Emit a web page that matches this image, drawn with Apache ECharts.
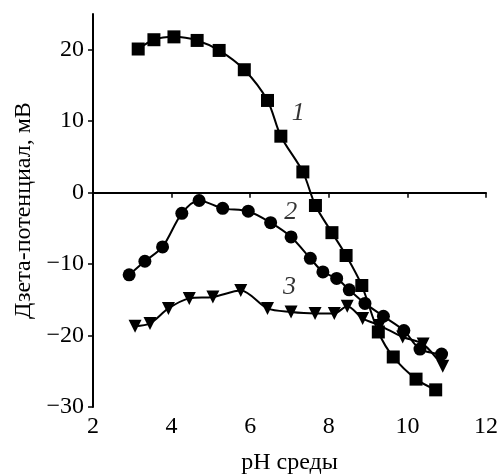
<!DOCTYPE html>
<html>
<head>
<meta charset="utf-8">
<script src="https://cdn.jsdelivr.net/npm/echarts@6/dist/echarts.min.js"></script>
<style>
  html, body { margin: 0; padding: 0; background: #fff; }
  #chart { width: 501px; height: 475px; }
</style>
</head>
<body>
<div id="chart"></div>
<script>
// кривая 1 — квадраты
const curve1 = [
  [3.15, 20.1], [3.55, 21.4], [4.06, 21.8], [4.65, 21.3], [5.21, 19.9],
  [5.85, 17.2], [6.44, 12.9], [6.78, 7.9], [7.34, 2.9], [7.66, -1.8],
  [8.08, -5.6], [8.44, -8.8], [8.84, -13.0], [9.26, -19.5], [9.64, -23.0],
  [10.22, -26.1], [10.72, -27.6]
]
// кривая 2 — круги
const curve2 = [
  [2.92, -11.5], [3.32, -9.6], [3.77, -7.6], [4.26, -2.9], [4.70, -1.1],
  [5.30, -2.2], [5.95, -2.6], [6.52, -4.2], [7.04, -6.2], [7.53, -9.2],
  [7.85, -11.1], [8.20, -12.0], [8.52, -13.6], [8.92, -15.5], [9.39, -17.3],
  [9.91, -19.3], [10.32, -21.9], [10.87, -22.6]
]
// кривая 3 — треугольники
const curve3 = [
  [3.07, -18.7], [3.45, -18.3], [3.92, -16.2], [4.45, -14.8], [5.05, -14.6],
  [5.76, -13.7], [6.44, -16.2], [7.04, -16.7], [7.65, -16.9], [8.14, -16.9],
  [8.47, -15.9], [8.86, -17.6], [9.30, -18.6], [9.88, -20.2], [10.40, -21.2],
  [10.90, -24.3]
]
// подписи кривых
const curveLabels = [
  [7.22, 11.1, '1'],
  [7.03, -2.8, '2'],
  [7.0, -13.3, '3']
]
const xTicks = [2, 4, 6, 8, 10, 12]
const yTicks = [-30, -20, -10, 0, 10, 20]

const FONT = "'Liberation Serif', 'Times New Roman', serif"

function curveSeries(data, symbol, size, rotate) {
  return {
    type: 'line',
    data: data,
    smooth: 0.3,
    symbol: symbol,
    symbolSize: size,
    symbolRotate: rotate || 0,
    lineStyle: { color: '#000', width: 2 },
    itemStyle: { color: '#000' },
    z: 3
  }
}

const chart = echarts.init(document.getElementById('chart'))
chart.setOption({
  animation: false,
  grid: { left: 93, right: 15, top: 14, bottom: 68, outerBoundsMode: 'none' },
  xAxis: {
    type: 'value',
    min: 2, max: 12, interval: 2,
    name: 'pH среды',
    nameLocation: 'middle',
    nameGap: 44,
    nameTextStyle: { fontFamily: FONT, fontSize: 24, color: '#000' },
    splitLine: { show: false },
    axisLine: { lineStyle: { color: '#000', width: 2 } },
    axisTick: { length: 5, lineStyle: { color: '#000', width: 1.5 }, customValues: xTicks },
    axisLabel: { fontFamily: FONT, fontSize: 24, color: '#000', margin: 8, customValues: xTicks }
  },
  yAxis: {
    type: 'value',
    min: -30, max: 25,
    name: 'Дзета-потенциал, мВ',
    nameLocation: 'middle',
    nameGap: 55,
    nameTextStyle: { fontFamily: FONT, fontSize: 24, color: '#000' },
    splitLine: { show: false },
    axisLine: { onZero: false, lineStyle: { color: '#000', width: 2 } },
    axisTick: { length: 5, lineStyle: { color: '#000', width: 1.5 }, customValues: yTicks },
    axisLabel: {
      fontFamily: FONT, fontSize: 24, color: '#000', margin: 9, customValues: yTicks,
      formatter: v => String(v).replace('-', '\u2212')
    }
  },
  series: [
    Object.assign(curveSeries(curve1, 'rect', 13), {
      markLine: {
        silent: true,
        symbol: 'none',
        label: { show: false },
        lineStyle: { color: '#000', type: [3, 2], width: 1.2 },
        data: [{ yAxis: 0 }]
      }
    }),
    curveSeries(curve2, 'circle', 13),
    curveSeries(curve3, 'triangle', 13, 180),
    {
      type: 'scatter',
      data: curveLabels,
      symbolSize: 0,
      silent: true,
      label: {
        show: true,
        position: 'inside',
        formatter: p => p.data[2],
        fontFamily: FONT,
        fontStyle: 'italic',
        fontSize: 26,
        color: '#000'
      },
      z: 5
    }
  ]
})
</script>
</body>
</html>
